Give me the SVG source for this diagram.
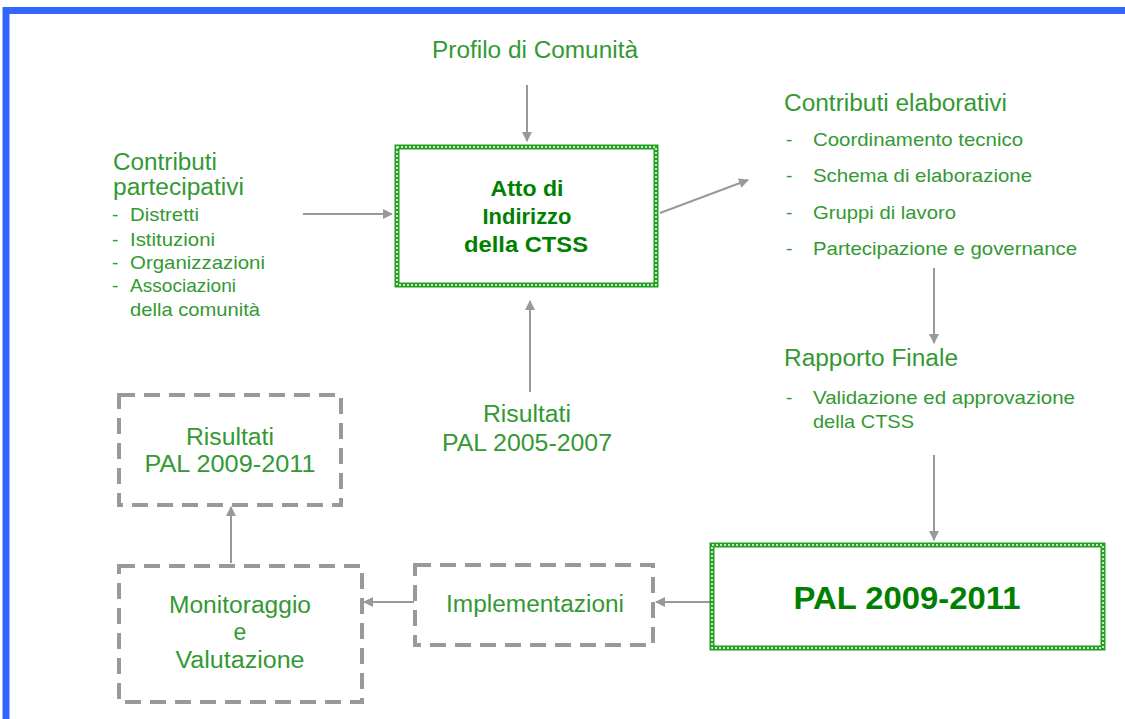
<svg xmlns="http://www.w3.org/2000/svg" width="1125" height="719" viewBox="0 0 1125 719">
<style>
text{font-family:"Liberation Sans",Arial,sans-serif;fill:#339933}
.h{font-size:23px}
.li{font-size:19px}
.b{font-weight:bold;fill:#008000}
.ctr{text-anchor:middle}
.conn{stroke:#999;stroke-width:2;fill:none}
.dash{fill:#fff;stroke:#999;stroke-width:4;stroke-dasharray:16 9}
.gbox{fill:#fff;stroke:#22a022;stroke-width:5}
.gpat{fill:none;stroke:#fff;stroke-width:1.5;stroke-dasharray:2 2}
</style>
<defs>
<marker id="ah" markerWidth="10" markerHeight="10" refX="9" refY="5" orient="auto" markerUnits="userSpaceOnUse">
<path d="M0,0 L10,5 L0,10 Z" fill="#999"/>
</marker>
</defs>
<rect width="1125" height="719" fill="#fff"/>
<path d="M6,719 V10.5 H1125" fill="none" stroke="#3366ff" stroke-width="7"/>

<g id="connectors">
<line class="conn" x1="527" y1="85" x2="527" y2="141" marker-end="url(#ah)"/>
<line class="conn" x1="303" y1="214" x2="392" y2="214" marker-end="url(#ah)"/>
<line class="conn" x1="660" y1="213" x2="748" y2="180" marker-end="url(#ah)"/>
<line class="conn" x1="934" y1="268" x2="934" y2="343" marker-end="url(#ah)"/>
<line class="conn" x1="530" y1="392" x2="530" y2="301" marker-end="url(#ah)"/>
<line class="conn" x1="934" y1="455" x2="934" y2="540" marker-end="url(#ah)"/>
<line class="conn" x1="710" y1="602" x2="656" y2="602" marker-end="url(#ah)"/>
<line class="conn" x1="414" y1="602" x2="364" y2="602" marker-end="url(#ah)"/>
<line class="conn" x1="231" y1="563" x2="231" y2="507" marker-end="url(#ah)"/>
</g>

<g id="profilo">
<text class="h ctr" x="535" y="58" textLength="206" lengthAdjust="spacingAndGlyphs">Profilo di Comunità</text>
</g>

<g id="contributi-partecipativi">
<text class="h" x="113" y="170" textLength="104" lengthAdjust="spacingAndGlyphs">Contributi</text>
<text class="h" x="113" y="195" textLength="131" lengthAdjust="spacingAndGlyphs">partecipativi</text>
<text class="li" x="112" y="221">-</text><text class="li" x="130" y="221" textLength="69" lengthAdjust="spacingAndGlyphs">Distretti</text>
<text class="li" x="112" y="246">-</text><text class="li" x="130" y="246" textLength="85" lengthAdjust="spacingAndGlyphs">Istituzioni</text>
<text class="li" x="112" y="269">-</text><text class="li" x="130" y="269" textLength="135" lengthAdjust="spacingAndGlyphs">Organizzazioni</text>
<text class="li" x="112" y="292">-</text><text class="li" x="130" y="292" textLength="106" lengthAdjust="spacingAndGlyphs">Associazioni</text>
<text class="li" x="130" y="316" textLength="130" lengthAdjust="spacingAndGlyphs">della comunità</text>
</g>

<g id="atto">
<rect class="gbox" x="397" y="147" width="259" height="138"/>
<rect class="gpat" x="397" y="147" width="259" height="138"/>
<text class="b ctr" x="527" y="196" style="font-size:22px" textLength="73" lengthAdjust="spacingAndGlyphs">Atto di</text>
<text class="b ctr" x="527" y="224" style="font-size:22px" textLength="89" lengthAdjust="spacingAndGlyphs">Indirizzo</text>
<text class="b ctr" x="526" y="252" style="font-size:22px" textLength="124" lengthAdjust="spacingAndGlyphs">della CTSS</text>
</g>

<g id="contributi-elaborativi">
<text class="h" x="784" y="111" textLength="223" lengthAdjust="spacingAndGlyphs">Contributi elaborativi</text>
<text class="li" x="786" y="146">-</text><text class="li" x="813" y="146" textLength="210" lengthAdjust="spacingAndGlyphs">Coordinamento tecnico</text>
<text class="li" x="786" y="182">-</text><text class="li" x="813" y="182" textLength="219" lengthAdjust="spacingAndGlyphs">Schema di elaborazione</text>
<text class="li" x="786" y="219">-</text><text class="li" x="813" y="219" textLength="143" lengthAdjust="spacingAndGlyphs">Gruppi di lavoro</text>
<text class="li" x="786" y="255">-</text><text class="li" x="813" y="255" textLength="264" lengthAdjust="spacingAndGlyphs">Partecipazione e governance</text>
</g>

<g id="rapporto">
<text class="h" x="784" y="366" textLength="174" lengthAdjust="spacingAndGlyphs">Rapporto Finale</text>
<text class="li" x="786" y="404">-</text><text class="li" x="813" y="404" textLength="262" lengthAdjust="spacingAndGlyphs">Validazione ed approvazione</text>
<text class="li" x="813" y="428" textLength="101" lengthAdjust="spacingAndGlyphs">della CTSS</text>
</g>

<g id="risultati-0507">
<text class="h ctr" x="527" y="422" textLength="88" lengthAdjust="spacingAndGlyphs">Risultati</text>
<text class="h ctr" x="527" y="451" textLength="170" lengthAdjust="spacingAndGlyphs">PAL 2005-2007</text>
</g>

<g id="pal">
<rect class="gbox" x="712" y="545" width="391" height="103"/>
<rect class="gpat" x="712" y="545" width="391" height="103"/>
<text class="b ctr" x="907" y="609" style="font-size:31px" textLength="227" lengthAdjust="spacingAndGlyphs">PAL 2009-2011</text>
</g>

<g id="risultati-0911">
<rect class="dash" x="119" y="395" width="222" height="110"/>
<text class="h ctr" x="230" y="445" textLength="88" lengthAdjust="spacingAndGlyphs">Risultati</text>
<text class="h ctr" x="230" y="472" textLength="171" lengthAdjust="spacingAndGlyphs">PAL 2009-2011</text>
</g>

<g id="implementazioni">
<rect class="dash" x="415" y="565" width="238" height="80"/>
<text class="h ctr" x="535" y="612" textLength="178" lengthAdjust="spacingAndGlyphs">Implementazioni</text>
</g>

<g id="monitoraggio">
<rect class="dash" x="119" y="566" width="243" height="136"/>
<text class="h ctr" x="240" y="613" textLength="142" lengthAdjust="spacingAndGlyphs">Monitoraggio</text>
<text class="h ctr" x="240" y="640">e</text>
<text class="h ctr" x="240" y="668" textLength="129" lengthAdjust="spacingAndGlyphs">Valutazione</text>
</g>
</svg>
